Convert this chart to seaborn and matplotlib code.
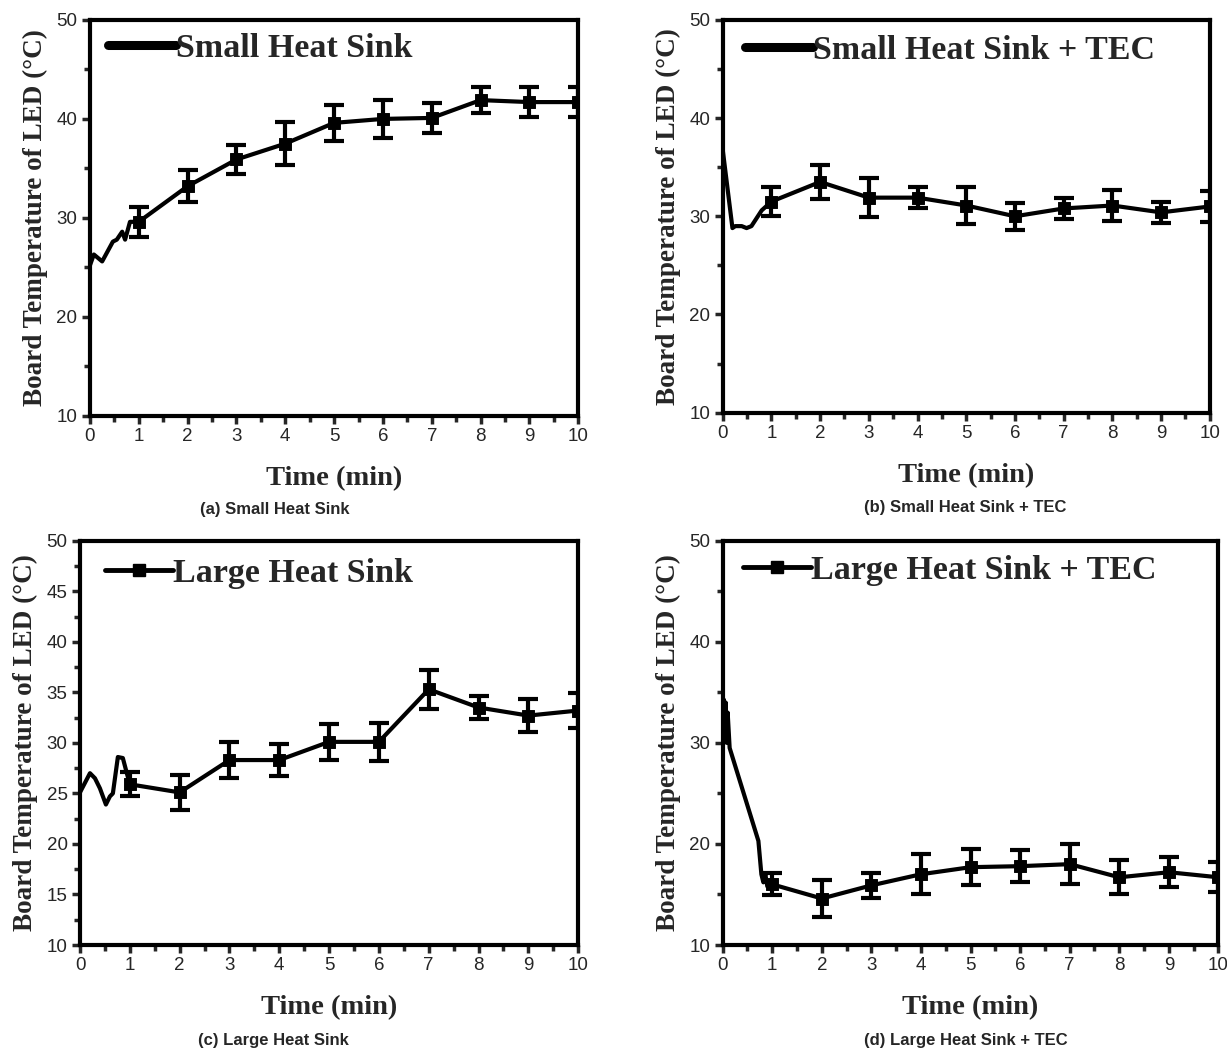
import numpy as np
import pandas as pd
import matplotlib.pyplot as plt
import seaborn as sns
from matplotlib.lines import Line2D
from matplotlib.ticker import MultipleLocator

sns.set_theme(style="ticks")
plt.rcParams['font.family'] = ['Liberation Sans', 'DejaVu Sans']

# minute readings (markers + error bars)
minutes = [1, 2, 3, 4, 5, 6, 7, 8, 9, 10]

# (a) small heat sink
a_early_t = [0.0, 0.08, 0.25, 0.47, 0.55, 0.66, 0.72, 0.82]
a_early_y = [25.2, 26.3, 25.6, 27.6, 27.8, 28.6, 27.8, 29.6]
a_mean = [29.6, 33.2, 35.9, 37.5, 39.6, 40.0, 40.1, 41.9, 41.7, 41.7]
a_err = [1.5, 1.6, 1.5, 2.2, 1.8, 1.9, 1.5, 1.3, 1.5, 1.5]

# (b) small heat sink + TEC
b_early_t = [0.0, 0.2, 0.26, 0.39, 0.49, 0.59, 0.8]
b_early_y = [36.8, 28.8, 29.0, 29.0, 28.8, 29.0, 30.6]
b_mean = [31.5, 33.5, 31.9, 31.9, 31.1, 30.0, 30.8, 31.1, 30.4, 31.0]
b_err = [1.5, 1.7, 2.0, 1.1, 1.9, 1.4, 1.1, 1.6, 1.1, 1.6]

# (c) large heat sink
c_early_t = [0.0, 0.2, 0.3, 0.4, 0.52, 0.6, 0.66, 0.76, 0.86, 0.94]
c_early_y = [25.1, 27.0, 26.5, 25.5, 23.9, 24.7, 25.0, 28.6, 28.5, 27.0]
c_mean = [25.9, 25.1, 28.3, 28.3, 30.1, 30.1, 35.3, 33.5, 32.7, 33.2]
c_err = [1.2, 1.7, 1.8, 1.6, 1.8, 1.9, 1.9, 1.1, 1.6, 1.7]

# (d) large heat sink + TEC
d_early_t = [0.0, 0.02, 0.04, 0.06, 0.08, 0.1, 0.14, 0.72, 0.78, 0.82, 0.86, 0.9]
d_early_y = [30.0, 34.3, 30.5, 34.0, 30.0, 33.0, 29.5, 20.3, 17.0, 16.2, 17.0, 15.8]
d_mean = [16.0, 14.6, 15.9, 17.0, 17.7, 17.8, 18.0, 16.7, 17.2, 16.7]
d_err = [1.1, 1.8, 1.2, 2.0, 1.8, 1.6, 2.0, 1.7, 1.5, 1.5]

panels = [
    ("Small Heat Sink", "(a) Small Heat Sink", a_early_t, a_early_y, a_mean, a_err, False, 10),
    ("Small Heat Sink + TEC", "(b) Small Heat Sink + TEC", b_early_t, b_early_y, b_mean, b_err, False, 10),
    ("Large Heat Sink", "(c) Large Heat Sink", c_early_t, c_early_y, c_mean, c_err, True, 5),
    ("Large Heat Sink + TEC", "(d) Large Heat Sink + TEC", d_early_t, d_early_y, d_mean, d_err, True, 10),
]

# axes boxes [left, bottom, width, height]
boxes = [
    [0.0733, 0.604, 0.398, 0.377],
    [0.589, 0.607, 0.397, 0.374],
    [0.0652, 0.100, 0.406, 0.385],
    [0.589, 0.100, 0.404, 0.385],
]
legend_anchor = [(0.037, 0.927), (0.045, 0.923), (0.05, 0.918), (0.04, 0.926)]
caption_xy = [(0.224, 0.5143), (0.787, 0.517), (0.223, 0.0095), (0.787, 0.0095)]

serif_bold = dict(family=['Liberation Serif', 'DejaVu Serif'], weight='bold')

fig = plt.figure(figsize=(12.27, 10.5), dpi=100)

for (name, caption, et, ey, mean, err, legend_marker, ystep), box, anc, cxy in zip(
        panels, boxes, legend_anchor, caption_xy):
    ax = fig.add_axes(box)
    df = pd.DataFrame({"time": et + minutes, "temp": ey + mean})
    pts = pd.DataFrame({"time": minutes, "temp": mean, "err": err})

    sns.lineplot(data=df, x="time", y="temp", color="black", lw=3, ax=ax,
                 sort=False, estimator=None)
    ax.errorbar(pts["time"], pts["temp"], yerr=pts["err"], fmt='none',
                ecolor="black", elinewidth=3, capsize=7, capthick=3)
    sns.scatterplot(data=pts, x="time", y="temp", marker='s', s=70,
                    color="black", edgecolor="black", ax=ax, zorder=5)

    ax.set_xlim(0, 10)
    ax.set_ylim(10, 50)
    ax.xaxis.set_major_locator(MultipleLocator(1))
    ax.xaxis.set_minor_locator(MultipleLocator(0.5))
    ax.yaxis.set_major_locator(MultipleLocator(ystep))
    ax.yaxis.set_minor_locator(MultipleLocator(ystep / 2))
    ax.tick_params(which='major', direction='out', length=6, width=2.5,
                   labelsize=13.5, pad=3)
    ax.tick_params(which='minor', direction='out', length=4, width=2.5)
    for sp in ax.spines.values():
        sp.set_linewidth(3)
        sp.set_color("black")

    ax.set_xlabel("Time (min)", fontsize=20.5, labelpad=15, **serif_bold)
    ax.set_ylabel("Board Temperature of LED (\u00b0C)", fontsize=19.5, labelpad=6, **serif_bold)

    if legend_marker:
        h = Line2D([], [], color="black", lw=3.5, marker='s', markersize=8)
    else:
        h = Line2D([], [], color="black", lw=6.5, solid_capstyle='round')
    ax.legend([h], [name], loc='center left', bbox_to_anchor=anc,
              frameon=False, handlelength=2.0, handletextpad=0.0,
              borderpad=0, borderaxespad=0,
              prop=dict(family=['Liberation Serif'], weight='bold', size=24.5))

    fig.text(cxy[0], cxy[1], caption, ha='center', va='center',
             fontsize=12, fontweight='bold')

fig.savefig("out.png", dpi=100)
